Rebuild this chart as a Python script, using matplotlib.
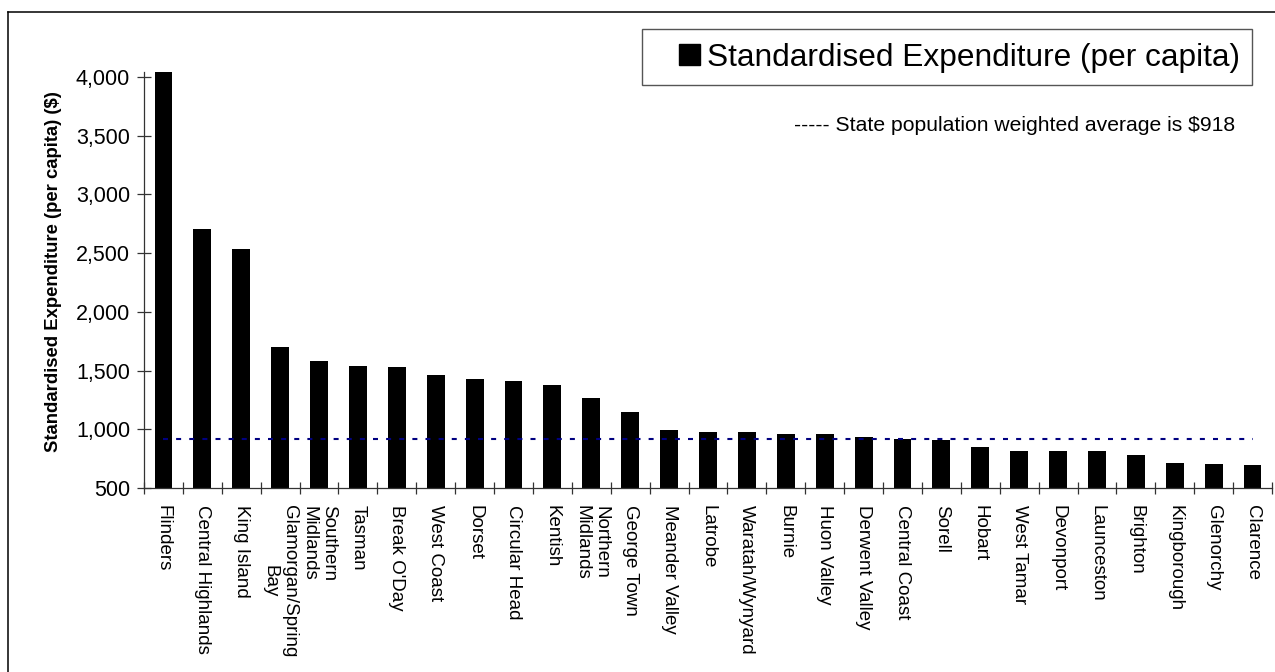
import matplotlib.pyplot as plt
import numpy as np
from matplotlib.patches import Patch, Rectangle
from matplotlib.lines import Line2D
from matplotlib.ticker import FuncFormatter

councils = ["Flinders", "Central Highlands", "King Island", "Glamorgan/Spring\nBay",
            "Southern\nMidlands", "Tasman", "Break O'Day", "West Coast", "Dorset",
            "Circular Head", "Kentish", "Northern\nMidlands", "George Town",
            "Meander Valley", "Latrobe", "Waratah/Wynyard", "Burnie", "Huon Valley",
            "Derwent Valley", "Central Coast", "Sorell", "Hobart", "West Tamar",
            "Devonport", "Launceston", "Brighton", "Kingborough", "Glenorchy", "Clarence"]
expenditure = [4040, 2705, 2534, 1705, 1580, 1540, 1529, 1461, 1429, 1410, 1376, 1268, 1145,
               990, 979, 973, 962, 956, 934, 917, 908, 848, 814, 814, 812, 780, 711, 703, 700]
state_average = 918

plt.rcParams['font.family'] = ['Liberation Sans', 'DejaVu Sans']

W, H = 1275, 672
fig = plt.figure(figsize=(W / 100, H / 100), dpi=100)
ax = fig.add_axes([144 / W, 1 - 488 / H, (1272 - 144) / W, (488 - 72.4) / H])

x = np.arange(len(councils))
ax.bar(x, expenditure, width=0.46, color='black', zorder=2)

# state average reference line, spanning first to last council
ax.plot(x, [state_average] * len(x), color='#000080', lw=1.5,
        linestyle=(0, (2.4, 3.9)), zorder=3)

ax.set_xlim(-0.5, len(councils) - 0.5)
ax.set_ylim(500, 4040)
ax.set_yticks(np.arange(500, 4001, 500))
ax.yaxis.set_major_formatter(FuncFormatter(lambda v, p: f"{int(v):,}"))

ax.set_xticks(x)
ax.set_xticklabels(councils, rotation=270, fontsize=13.5, ha='center', va='top',
                   multialignment='center')
ax.set_xticks(np.arange(-0.5, len(councils), 1), minor=True)
ax.tick_params(axis='x', which='major', length=0, pad=12.5)
ax.tick_params(axis='x', which='minor', direction='inout', length=9, width=0.9, color='#333333')
ax.tick_params(axis='y', direction='inout', length=10, width=0.9, color='#333333',
               labelsize=15.5, pad=5)

for side in ['top', 'right']:
    ax.spines[side].set_visible(False)
for side in ['left', 'bottom']:
    ax.spines[side].set_color('#333333')
    ax.spines[side].set_linewidth(0.9)

ax.set_ylabel('Standardised Expenditure (per capita) ($)', fontsize=13.3, fontweight='bold')
ax.yaxis.set_label_coords(-0.073, 0.52)

# legend box
fig.add_artist(Rectangle((642 / W, 1 - 85 / H), (1252 - 642) / W, 56 / H,
                         transform=fig.transFigure, fill=False, edgecolor='#555555', lw=1))
fig.legend(handles=[Patch(facecolor='black', edgecolor='black')],
           labels=['Standardised Expenditure (per capita)'],
           loc='center left', bbox_to_anchor=(679 / W, 1 - 58 / H),
           frameon=False, fontsize=22.8, borderpad=0, borderaxespad=0,
           handlelength=0.67, handleheight=0.63, handletextpad=0.22)

fig.text(794 / W, 1 - 131 / H, '----- State population weighted average is $918',
         fontsize=15.2, ha='left', va='baseline')

# outer chart border
fig.add_artist(Line2D([8 / W, 8 / W], [-0.1, 1 - 12 / H], transform=fig.transFigure,
                      color='black', lw=1.1))
fig.add_artist(Line2D([8 / W, 1.1], [1 - 12 / H, 1 - 12 / H], transform=fig.transFigure,
                      color='black', lw=1.1))

plt.savefig('out.png', dpi=100)
